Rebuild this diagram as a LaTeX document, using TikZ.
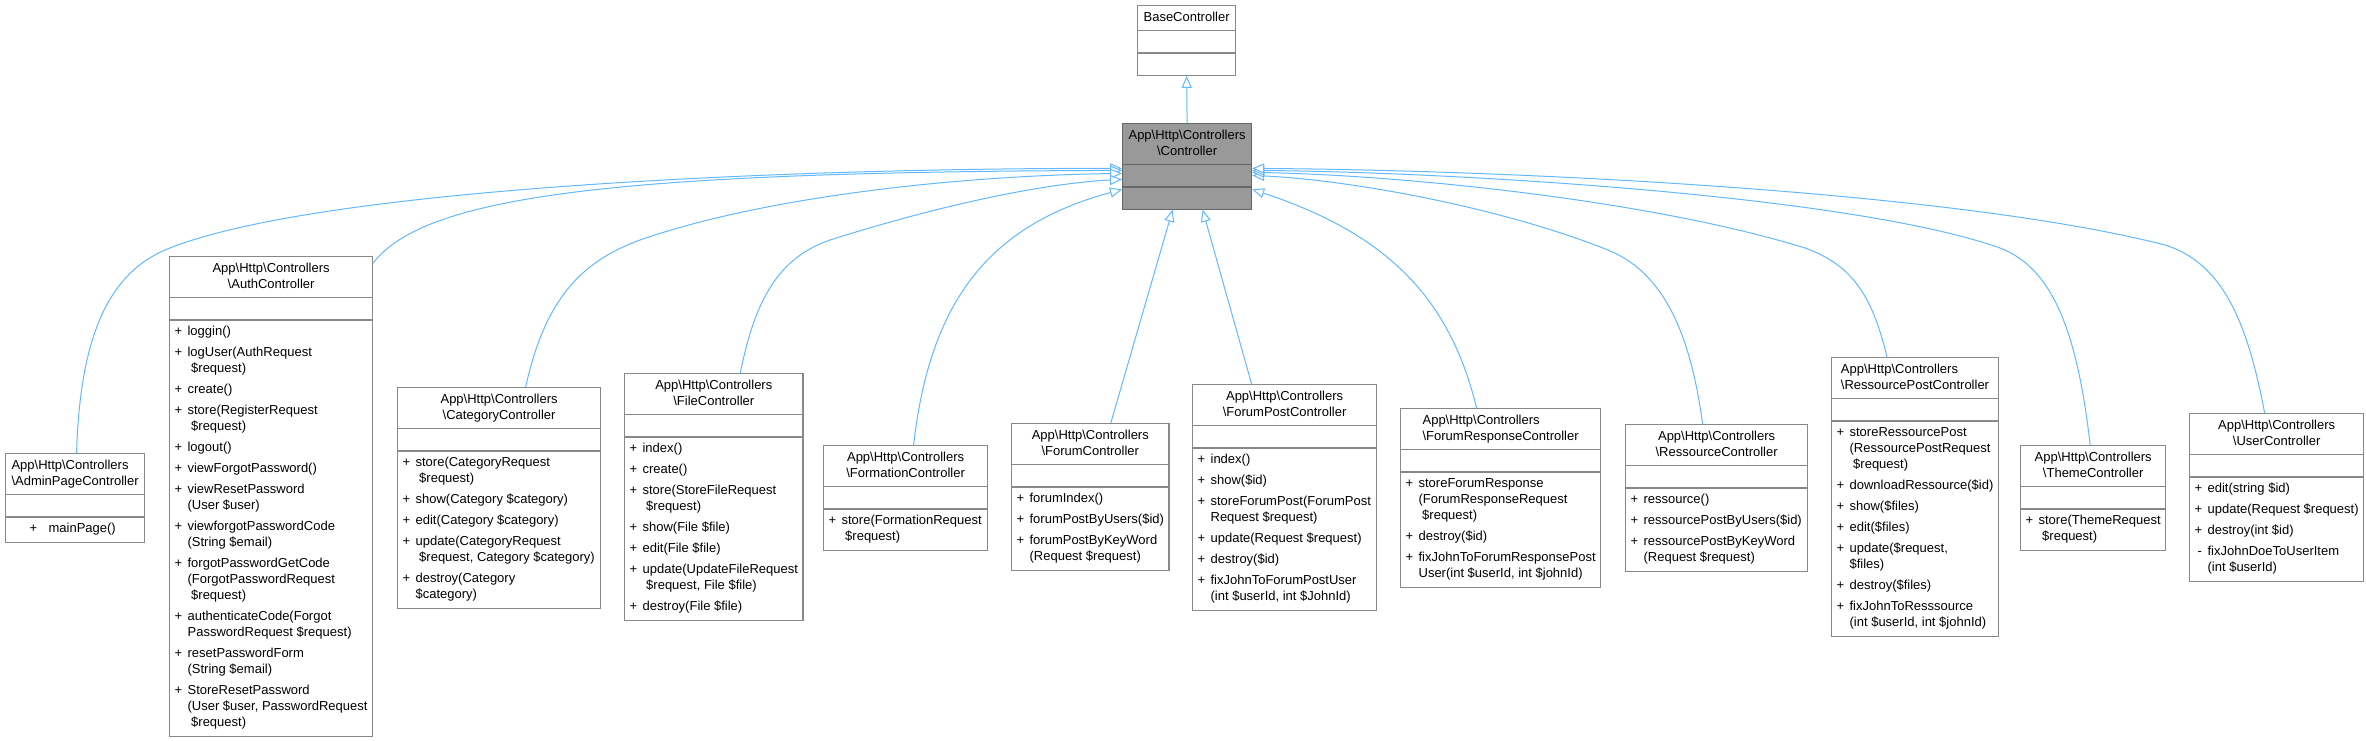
\documentclass[tikz,border=0pt]{standalone}
\usepackage{fontspec}
\setmainfont{Liberation Sans}
\usepackage{tikz}
\usetikzlibrary{arrows.meta,shapes.multipart}

\definecolor{edgeblue}{RGB}{99,184,255}
\definecolor{boxgray}{RGB}{136,136,136}
\definecolor{basegray}{RGB}{153,153,153}

\newcommand{\clshead}[1]{\begin{tabular}{@{}c@{}}App\textbackslash Http\textbackslash Controllers\\\textbackslash #1\end{tabular}}
\newcommand{\clsheadl}[1]{\begin{tabular}{@{}l@{}}App\textbackslash Http\textbackslash Controllers\\\textbackslash #1\end{tabular}}
\newcommand{\mplus}{\makebox[13pt][l]{+}}
\newcommand{\mcont}{\hspace*{13pt}}

\begin{document}
\begin{tikzpicture}[x=1pt,y=-1pt,>={Triangle[length=12pt,width=10pt,fill=white]},
  class node/.style={rectangle split,rectangle split parts=3,
    rectangle split part align={center,left,left},
    rectangle split empty part height=13pt,rectangle split empty part depth=0pt,
    draw=boxgray,line width=1.2pt,fill=white,inner xsep=5pt,inner ysep=4pt,
    anchor=north west,font=\fontsize{13}{16}\selectfont},
  inherit/.style={->,draw=edgeblue,line width=1pt}]

  \useasboundingbox (0,0) rectangle (2366,741);

  \node[class node,minimum width=98pt] (1) at (1137,5) {\begin{tabular}{@{}c@{}}BaseController\end{tabular}
    \nodepart{two}\rule{0pt}{13pt}\nodepart{three}\rule{0pt}{13pt}};
  \node[class node,fill=basegray,draw=black!60,minimum width=129pt] (2) at (1122,123) {\clshead{Controller}
    \nodepart{two}\rule{0pt}{13pt}\nodepart{three}\rule{0pt}{13pt}};

  \node[class node,minimum width=139pt] (3) at (5,453) {\clsheadl{AdminPageController}
    \nodepart{two}\rule{0pt}{13pt}
    \nodepart{three}\begin{tabular}{@{}l@{}}\hspace*{19pt}\makebox[19pt][l]{+}mainPage()\end{tabular}};

  \node[class node,minimum width=203pt] (4) at (169,256) {\clshead{AuthController}
    \nodepart{two}\rule{0pt}{13pt}
    \nodepart{three}\begin{tabular}{@{}l@{}}
      \mplus loggin()\\[5pt]
      \mplus logUser(AuthRequest\\ \mcont\ \$request)\\[5pt]
      \mplus create()\\[5pt]
      \mplus store(RegisterRequest\\ \mcont\ \$request)\\[5pt]
      \mplus logout()\\[5pt]
      \mplus viewForgotPassword()\\[5pt]
      \mplus viewResetPassword\\ \mcont(User \$user)\\[5pt]
      \mplus viewforgotPasswordCode\\ \mcont(String \$email)\\[5pt]
      \mplus forgotPasswordGetCode\\ \mcont(ForgotPasswordRequest\\ \mcont\ \$request)\\[5pt]
      \mplus authenticateCode(Forgot\\ \mcont PasswordRequest \$request)\\[5pt]
      \mplus resetPasswordForm\\ \mcont(String \$email)\\[5pt]
      \mplus StoreResetPassword\\ \mcont(User \$user, PasswordRequest\\ \mcont\ \$request)
    \end{tabular}};

  \node[class node,minimum width=203pt] (5) at (397,387) {\clshead{CategoryController}
    \nodepart{two}\rule{0pt}{13pt}
    \nodepart{three}\begin{tabular}{@{}l@{}}
      \mplus store(CategoryRequest\\ \mcont\ \$request)\\[5pt]
      \mplus show(Category \$category)\\[5pt]
      \mplus edit(Category \$category)\\[5pt]
      \mplus update(CategoryRequest\\ \mcont\ \$request, Category \$category)\\[5pt]
      \mplus destroy(Category\\ \mcont\$category)
    \end{tabular}};

  \node[class node,minimum width=175pt] (6) at (624,373) {\clshead{FileController}
    \nodepart{two}\rule{0pt}{13pt}
    \nodepart{three}\begin{tabular}{@{}l@{}}
      \mplus index()\\[5pt]
      \mplus create()\\[5pt]
      \mplus store(StoreFileRequest\\ \mcont\ \$request)\\[5pt]
      \mplus show(File \$file)\\[5pt]
      \mplus edit(File \$file)\\[5pt]
      \mplus update(UpdateFileRequest\\ \mcont\ \$request, File \$file)\\[5pt]
      \mplus destroy(File \$file)
    \end{tabular}};

  \node[class node,minimum width=164pt] (7) at (823,445) {\clshead{FormationController}
    \nodepart{two}\rule{0pt}{13pt}
    \nodepart{three}\begin{tabular}{@{}l@{}}
      \mplus store(FormationRequest\\ \mcont\ \$request)
    \end{tabular}};

  \node[class node,minimum width=157pt] (8) at (1011,423) {\clshead{ForumController}
    \nodepart{two}\rule{0pt}{13pt}
    \nodepart{three}\begin{tabular}{@{}l@{}}
      \mplus forumIndex()\\[5pt]
      \mplus forumPostByUsers(\$id)\\[5pt]
      \mplus forumPostByKeyWord\\ \mcont(Request \$request)
    \end{tabular}};

  \node[class node,minimum width=184pt] (9) at (1192,384) {\clshead{ForumPostController}
    \nodepart{two}\rule{0pt}{13pt}
    \nodepart{three}\begin{tabular}{@{}l@{}}
      \mplus index()\\[5pt]
      \mplus show(\$id)\\[5pt]
      \mplus storeForumPost(ForumPost\\ \mcont Request \$request)\\[5pt]
      \mplus update(Request \$request)\\[5pt]
      \mplus destroy(\$id)\\[5pt]
      \mplus fixJohnToForumPostUser\\ \mcont(int \$userId, int \$JohnId)
    \end{tabular}};

  \node[class node,minimum width=200pt] (10) at (1400,408) {\clsheadl{ForumResponseController}
    \nodepart{two}\rule{0pt}{13pt}
    \nodepart{three}\begin{tabular}{@{}l@{}}
      \mplus storeForumResponse\\ \mcont(ForumResponseRequest\\ \mcont\ \$request)\\[5pt]
      \mplus destroy(\$id)\\[5pt]
      \mplus fixJohnToForumResponsePost\\ \mcont User(int \$userId, int \$johnId)
    \end{tabular}};

  \node[class node,minimum width=182pt] (11) at (1625,424) {\clshead{RessourceController}
    \nodepart{two}\rule{0pt}{13pt}
    \nodepart{three}\begin{tabular}{@{}l@{}}
      \mplus ressource()\\[5pt]
      \mplus ressourcePostByUsers(\$id)\\[5pt]
      \mplus ressourcePostByKeyWord\\ \mcont(Request \$request)
    \end{tabular}};

  \node[class node,minimum width=164pt] (12) at (1831,357) {\clsheadl{RessourcePostController}
    \nodepart{two}\rule{0pt}{13pt}
    \nodepart{three}\begin{tabular}{@{}l@{}}
      \mplus storeRessourcePost\\ \mcont(RessourcePostRequest\\ \mcont\ \$request)\\[5pt]
      \mplus downloadRessource(\$id)\\[5pt]
      \mplus show(\$files)\\[5pt]
      \mplus edit(\$files)\\[5pt]
      \mplus update(\$request,\\ \mcont\$files)\\[5pt]
      \mplus destroy(\$files)\\[5pt]
      \mplus fixJohnToResssource\\ \mcont(int \$userId, int \$johnId)
    \end{tabular}};

  \node[class node,minimum width=144pt] (13) at (2020,445) {\clshead{ThemeController}
    \nodepart{two}\rule{0pt}{13pt}
    \nodepart{three}\begin{tabular}{@{}l@{}}
      \mplus store(ThemeRequest\\ \mcont\ \$request)
    \end{tabular}};

  \node[class node,minimum width=172pt] (14) at (2189,413) {\clshead{UserController}
    \nodepart{two}\rule{0pt}{13pt}
    \nodepart{three}\begin{tabular}{@{}l@{}}
      \mplus edit(string \$id)\\[5pt]
      \mplus update(Request \$request)\\[5pt]
      \mplus destroy(int \$id)\\[5pt]
      \makebox[13pt][l]{\hspace{3pt}-}fixJohnDoeToUserItem\\ \mcont(int \$userId)
    \end{tabular}};

  \draw[inherit] (2.north) -- (1.south);

  \draw[inherit] ([xshift=1.5pt]3.north) .. controls (80,330) and (112,273) .. (165,250)
    .. controls (315,187) and (800,168) .. ([yshift=-2pt]2.west);
  \draw[inherit] ([yshift=-7pt]4.north east) .. controls (425,195) and (620,172) .. ([yshift=-4pt]2.west);
  \draw[inherit] ([xshift=26.5pt]5.north) .. controls (545,300) and (580,262) .. (640,240)
    .. controls (760,198) and (950,176) .. ([yshift=-7pt]2.west);
  \draw[inherit] ([xshift=26.5pt]6.north) .. controls (755,300) and (778,258) .. (830,240)
    .. controls (950,202) and (1050,183) .. ([yshift=-13pt]2.west);
  \draw[inherit] ([xshift=8pt]7.north) .. controls (930,300) and (990,225) .. ([yshift=-23pt]2.west);
  \draw[inherit] ([xshift=20.5pt]8.north) -- ([xshift=-14.5pt]2.south);
  \draw[inherit] ([xshift=-33pt]9.north) -- ([xshift=15.5pt]2.south);
  \draw[inherit] ([xshift=-24pt]10.north) .. controls (1450,300) and (1390,235) .. ([yshift=-23pt]2.east);
  \draw[inherit] ([xshift=-14pt]11.north) .. controls (1690,330) and (1662,272) .. (1608,250)
    .. controls (1500,207) and (1350,180) .. ([yshift=-9pt]2.east);
  \draw[inherit] ([xshift=-28pt]12.north) .. controls (1872,295) and (1852,265) .. (1805,248)
    .. controls (1650,200) and (1400,175) .. ([yshift=-6pt]2.east);
  \draw[inherit] ([xshift=-3pt]13.north) .. controls (2077,330) and (2052,268) .. (2000,248)
    .. controls (1850,195) and (1450,172) .. ([yshift=-4pt]2.east);
  \draw[inherit] ([xshift=-12pt]14.north) .. controls (2247,320) and (2222,263) .. (2165,245)
    .. controls (1950,190) and (1500,170) .. ([yshift=-2pt]2.east);

\end{tikzpicture}
\end{document}
